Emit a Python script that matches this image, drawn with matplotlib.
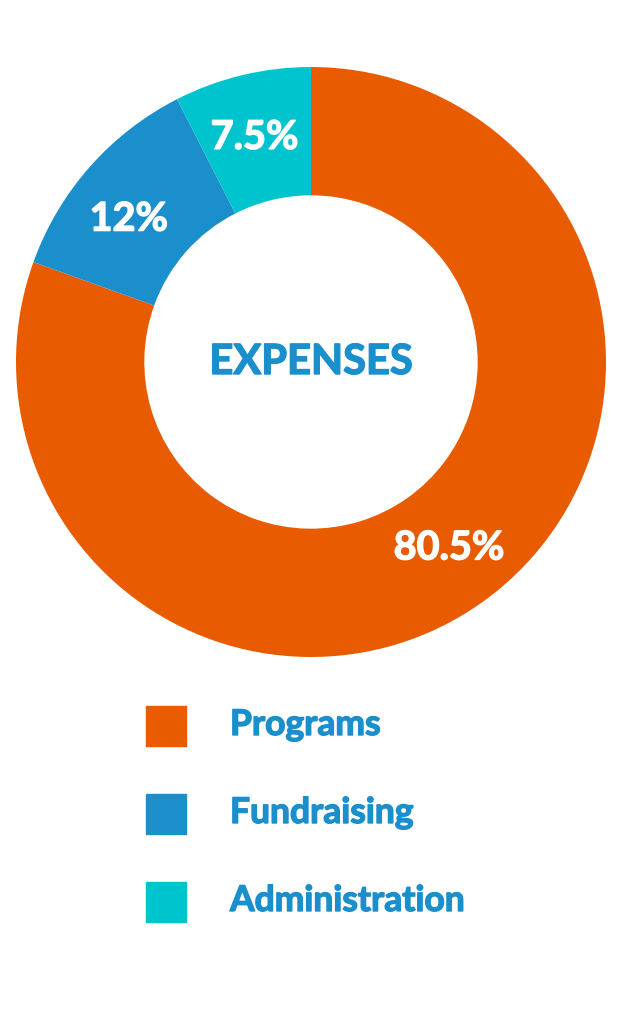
import matplotlib
matplotlib.use("Agg")
import matplotlib.pyplot as plt
import matplotlib.patheffects as pe
from matplotlib.patches import Rectangle
import numpy as np

# data
categories = ["Programs", "Fundraising", "Administration"]
values = [80.5, 12, 7.5]
pct_labels = ["80.5%", "12%", "7.5%"]
colors = ["#E95B00", "#1B8FCB", "#00C4CD"]
text_blue = "#1B8FCB"
center_title = "EXPENSES"

# small turn (degrees) of each % label away from the wedge middle, as in the original
label_turn = [1.5, 3.3, 0.6]

plt.rcParams['font.family'] = ['Lato', 'DejaVu Sans']

def heavy(col):
    # thicken the bold Lato a little so it looks like the heavier original
    return [pe.withStroke(linewidth=1.0, foreground=col)]

W, H = 618, 1024
fig = plt.figure(figsize=(W / 100, H / 100), dpi=100)
fig.patch.set_facecolor("white")

# donut axes: centre (311, 362) px, radius 295 px
cx, cy, r = 311, 362, 295
ax = fig.add_axes([(cx - r) / W, (H - cy - r) / H, 2 * r / W, 2 * r / H])

lab_iter = iter(pct_labels)
wedges, texts, autotexts = ax.pie(
    values, colors=colors, startangle=90, counterclock=False,
    radius=1.0, wedgeprops=dict(width=0.435, edgecolor="none"),
    autopct=lambda p: next(lab_iter), pctdistance=0.785,
    textprops=dict(color="white", fontsize=28.5, fontweight="bold"))
for t, turn in zip(autotexts, label_turn):
    x, y = t.get_position()
    a = np.deg2rad(turn)
    t.set_position((x * np.cos(a) - y * np.sin(a), x * np.sin(a) + y * np.cos(a)))
    t.set_path_effects(heavy("white"))
ax.set_xlim(-1, 1)
ax.set_ylim(-1, 1)
ax.set_aspect("equal")
ax.axis("off")

ax.text(0, 0, center_title, ha="center", va="center", color=text_blue,
        fontsize=30, fontweight="bold", path_effects=heavy(text_blue))

# legend
sq = 40
x0, y0, step = 146, 706, 88
for i, (name, col) in enumerate(zip(categories, colors)):
    top = y0 + i * step
    fig.patches.append(Rectangle((x0 / W, (H - top - sq) / H), sq / W, sq / H,
                                 transform=fig.transFigure, color=col))
    fig.text(230 / W, (H - top - sq / 2 + 1) / H, name, ha="left", va="center",
             color=text_blue, fontsize=25.5, fontweight="bold",
             path_effects=heavy(text_blue))

fig.savefig("out.png", dpi=100, facecolor="white")
